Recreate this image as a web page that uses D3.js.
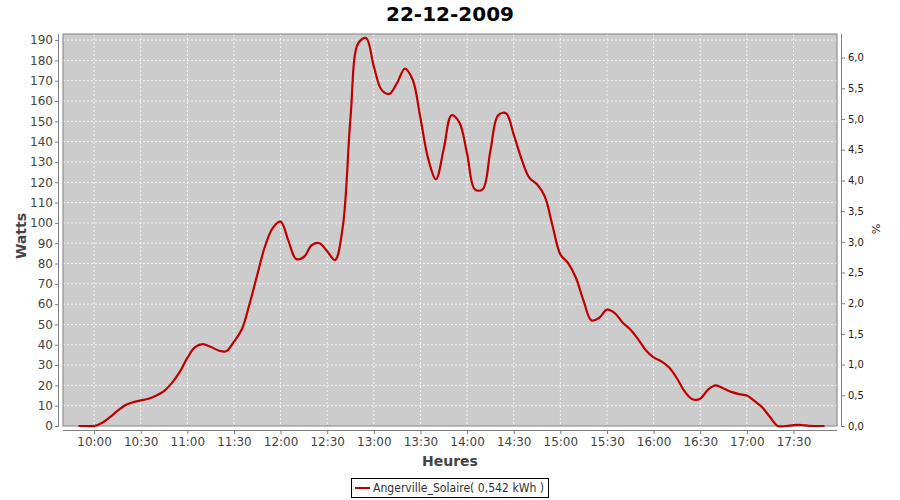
<!DOCTYPE html>
<html><head><meta charset="utf-8">
<script src="https://cdn.jsdelivr.net/npm/d3@7"></script>
<style>body{margin:0;background:#fff}svg{display:block}text{font-family:"DejaVu Sans",sans-serif}</style>
</head><body><svg id="c" width="900" height="500"></svg>
<script>
const title = "22-12-2009";
const times = ["09:50","09:55","10:00","10:05","10:10","10:15","10:20","10:25","10:30","10:35","10:40","10:45","10:50","10:55",
"11:00","11:05","11:10","11:15","11:20","11:25","11:30","11:35","11:40","11:45","11:50","11:55",
"12:00","12:05","12:10","12:15","12:20","12:25","12:30","12:35","12:40","12:45","12:50","12:55",
"13:00","13:05","13:10","13:15","13:20","13:25","13:30","13:35","13:40","13:45","13:50","13:55",
"14:00","14:05","14:10","14:15","14:20","14:25","14:30","14:35","14:40","14:45","14:50","14:55",
"15:00","15:05","15:10","15:15","15:20","15:25","15:30","15:35","15:40","15:45","15:50","15:55",
"16:00","16:05","16:10","16:15","16:20","16:25","16:30","16:35","16:40","16:45","16:50","16:55",
"17:00","17:05","17:10","17:15","17:20","17:25","17:30","17:35","17:40","17:45","17:50"];
const watts = [0,0,0,1.5,4.2,7.4,10.2,11.7,12.6,13.4,15,17.2,21.1,26.5,
33.5,38.8,40.3,39,37.2,36.8,41.5,47.5,60,74.5,88.5,97.5,
100.7,91.3,82.2,83.2,89,90,86,81.7,98,152,188.5,191,
177,165.5,163.5,169,176,170.5,151.5,131.5,121.5,136.5,153,149.5,
134,116.5,116.5,135.5,153,154,143.5,131.5,122.3,119,113,98.5,
84.5,80.2,73,61.5,52,53.3,57.3,55.6,51,47.5,42.8,37.3,
33.8,31.8,28.8,23.5,17,13.2,13.4,17.9,20,18.5,16.8,15.7,
15,12.2,9.1,4.3,0,0,0.4,0.5,0.1,0,0];
const xTicks = ["10:00","10:30","11:00","11:30","12:00","12:30","13:00","13:30","14:00","14:30","15:00","15:30","16:00","16:30","17:00","17:30"];
const leftTicks = d3.range(0,191,10);
const rightTicks = [0,0.5,1,1.5,2,2.5,3,3.5,4,4.5,5,5.5,6];
const legendLabel = "Angerville_Solaire( 0,542 kWh )";

const parse = d3.timeParse("%H:%M");
const data = times.map((t,i)=>({t:parse(t),v:watts[i]}));

const svg = d3.select("#c");
const L=63, R=837, T=34, B=426;
const x = d3.scaleTime().domain([parse("09:40"), d3.timeMinute.offset(parse("17:58"),36/60)]).range([L,R]);
const y = d3.scaleLinear().domain([0,193]).range([B,T]);
const y2 = d3.scaleLinear().domain([0,6.385]).range([B,T]);

svg.append("text").attr("x",450).attr("y",21).attr("text-anchor","middle")
  .attr("font-size",20).attr("font-weight","bold").attr("fill","#000").text(title);

svg.append("rect").attr("x",L).attr("y",T).attr("width",R-L).attr("height",B-T).attr("fill","#cccccc");

const g = svg.append("g");
xTicks.forEach(s=>{
  const xx = x(parse(s));
  g.append("line").attr("x1",xx).attr("x2",xx).attr("y1",T).attr("y2",B)
   .attr("stroke","#fff").attr("stroke-width",0.8).attr("stroke-dasharray","2,2");
});
leftTicks.forEach(v=>{
  const yy = y(v);
  g.append("line").attr("x1",L).attr("x2",R).attr("y1",yy).attr("y2",yy)
   .attr("stroke","#fff").attr("stroke-width",0.8).attr("stroke-dasharray","2,2");
});

svg.append("rect").attr("x",L).attr("y",T).attr("width",R-L).attr("height",B-T)
  .attr("fill","none").attr("stroke","#808080").attr("stroke-width",1);

// left axis
const ax = d3.axisLeft(y).tickValues(leftTicks).tickSize(4).tickPadding(2).tickFormat(d3.format("d"));
const gl = svg.append("g").attr("transform",`translate(59,0)`).call(ax);
gl.select(".domain").attr("d",`M-0.5,${T}V${B}`).attr("stroke","#808080");
gl.selectAll(".tick line").attr("stroke","#808080");
gl.selectAll("text").attr("font-size",12).attr("fill","#444").attr("font-family","DejaVu Sans");

// right axis
const ar = d3.axisRight(y2).tickValues(rightTicks).tickSize(4).tickPadding(3).tickFormat(d=>d3.format(".1f")(d).replace(".",","));
const gr = svg.append("g").attr("transform",`translate(841,0)`).call(ar);
gr.select(".domain").attr("d",`M0.5,${T}V${B}`).attr("stroke","#808080");
gr.selectAll(".tick line").attr("stroke","#808080");
gr.selectAll("text").attr("font-size",10).attr("fill","#222").attr("font-family","DejaVu Sans");

// bottom axis
const axb = d3.axisBottom(x).tickValues(xTicks.map(parse)).tickSize(4).tickPadding(3).tickFormat(d3.timeFormat("%H:%M"));
const gb = svg.append("g").attr("transform",`translate(0,430)`).call(axb);
gb.select(".domain").attr("d",`M${L},0.5H${R}`).attr("stroke","#808080");
gb.selectAll(".tick line").attr("stroke","#808080");
gb.selectAll("text").attr("font-size",12).attr("fill","#444").attr("font-family","DejaVu Sans");

// axis labels
svg.append("text").attr("transform","translate(26,236) rotate(-90)").attr("text-anchor","middle")
  .attr("font-size",14).attr("font-weight","bold").attr("fill","#444").text("Watts");
svg.append("text").attr("x",450).attr("y",466).attr("text-anchor","middle")
  .attr("font-size",14).attr("font-weight","bold").attr("fill","#444").text("Heures");
svg.append("text").attr("transform","translate(872,229) rotate(90)").attr("text-anchor","middle")
  .attr("font-size",11).attr("fill","#222").text("%");

// line
const line = d3.line().x(d=>x(d.t)).y(d=>y(d.v)).curve(d3.curveCatmullRom.alpha(0.5));
svg.append("path").datum(data).attr("d",line).attr("fill","none")
  .attr("stroke","#c00000").attr("stroke-width",2.2).attr("stroke-linejoin","round");

// legend
const lg = svg.append("g");
lg.append("rect").attr("x",351.5).attr("y",478.5).attr("width",197).attr("height",19)
  .attr("fill","#fff").attr("stroke","#000").attr("stroke-width",1);
lg.append("line").attr("x1",355).attr("x2",370).attr("y1",488).attr("y2",488)
  .attr("stroke","#c00000").attr("stroke-width",2);
lg.append("text").attr("x",373).attr("y",492).attr("font-size",12).attr("fill","#333")
  .attr("textLength",171).attr("lengthAdjust","spacingAndGlyphs").text(legendLabel);
</script></body></html>
